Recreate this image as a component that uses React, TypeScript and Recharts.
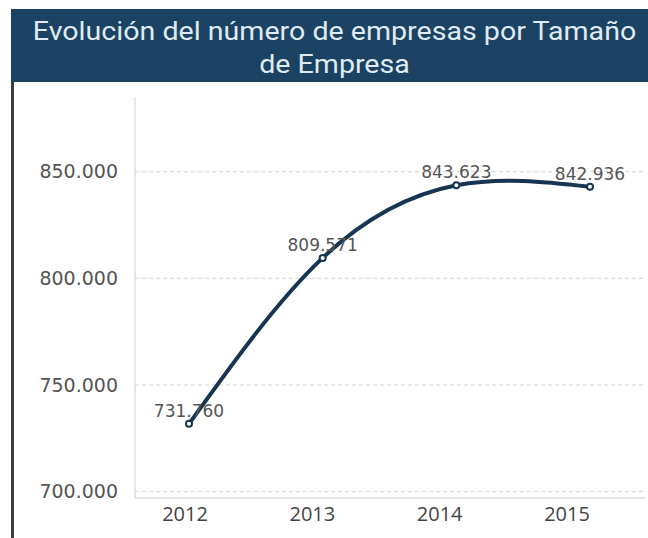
import { LineChart, Line, XAxis, YAxis, CartesianGrid, LabelList } from 'recharts';

// años y número de empresas
const years = ['2012', '2013', '2014', '2015'];
const empresas = [731760, 809571, 843623, 842936];
const yTicks = [700000, 750000, 800000, 850000];

const data = years.map((year, i) => ({ year, empresas: empresas[i] }));

const fmt = (v: number) => v.toLocaleString('de-DE');

export default function App() {
  return (
    <div
      style={{
        position: 'absolute',
        left: 0,
        top: 0,
        width: 648,
        height: 538,
        overflow: 'hidden',
        background: '#fff',
      }}
    >
      {/* cabecera */}
      <div
        style={{
          position: 'absolute',
          left: 11,
          top: 9,
          width: 650,
          height: 73,
          background: '#1b4263',
          color: '#dfeaf2',
          fontFamily: 'Roboto, sans-serif',
          fontSize: 26,
          lineHeight: '33px',
          textAlign: 'center',
          paddingTop: 6,
          boxSizing: 'border-box',
        }}
      >
        <div style={{ transform: 'scaleX(1.1)', marginLeft: -3 }}>
          Evolución del número de empresas por Tamaño
          <br />
          de Empresa
        </div>
      </div>
      <div
        style={{
          position: 'absolute',
          left: 11,
          top: 82,
          width: 3,
          height: 460,
          background: '#3c3c3c',
        }}
      />
      <div style={{ position: 'absolute', left: 0, top: 0 }}>
        <LineChart
          width={648}
          height={538}
          data={data}
          margin={{ top: 97, right: 3, left: 0, bottom: 0 }}
        >
          <CartesianGrid
            vertical={false}
            horizontalValues={yTicks}
            stroke="#d6d6d6"
            strokeDasharray="4 3"
          />
          <XAxis dataKey="year" hide height={0} padding={{ left: 54, right: 55 }} />
          <XAxis
            xAxisId="lab"
            dataKey="year"
            height={40}
            padding={{ left: 50, right: 78 }}
            axisLine={{ stroke: '#cfcfcf' }}
            tickLine={false}
            tickSize={0}
            tickMargin={9}
            tick={{ fill: '#444', fontSize: 20, fontFamily: '"Open Sans", sans-serif' }}
          />
          <YAxis
            width={135}
            domain={[697000, 885000]}
            ticks={yTicks}
            tickFormatter={fmt}
            axisLine={{ stroke: '#cfcfcf' }}
            tickLine={false}
            tickSize={0}
            tickMargin={17}
            tick={{ fill: '#555', fontSize: 19, fontFamily: '"DejaVu Sans", sans-serif' }}
          />
          <Line
            type="natural"
            dataKey="empresas"
            stroke="#173553"
            strokeWidth={4}
            dot={{ r: 3, fill: '#fff', stroke: '#173553', strokeWidth: 2 }}
            isAnimationActive={false}
          >
            <LabelList
              dataKey="empresas"
              position="top"
              offset={7}
              formatter={(v: number) => fmt(v)}
              style={{ fill: '#555', fontSize: 17, fontFamily: '"DejaVu Sans", sans-serif' }}
            />
          </Line>
        </LineChart>
      </div>
    </div>
  );
}
